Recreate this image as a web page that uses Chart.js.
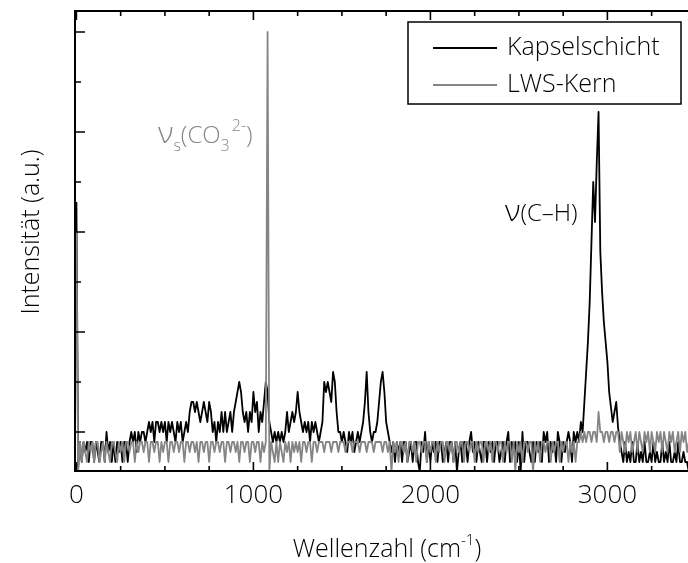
<!DOCTYPE html>
<html>
<head>
<meta charset="utf-8">
<script src="https://cdn.jsdelivr.net/npm/chart.js@4/dist/chart.umd.min.js"></script>
<style>
  html, body { margin: 0; padding: 0; background: #fff; overflow: hidden; }
  canvas { display: block; }
</style>
</head>
<body>
<canvas id="spectrum" width="700" height="563"></canvas>
<script>
// Raman spectra: capsule layer vs. core, sampled every 10 cm-1 from 0 cm-1
const WAVENUMBER_START = 0;
const WAVENUMBER_STEP = 10;

const seriesNames = ['Kapselschicht', 'LWS-Kern'];
const seriesColors = ['#000000', '#858585'];

// Kapselschicht intensity (a.u.), 25 samples per row (250 cm-1)
const kapselschicht = [
  56,3,8,4,8,6,8,4,8,8,4,8,6,4,8,8,4,10,6,8,4,8,4,8,6,
  8,4,8,8,4,8,10,8,10,6,10,8,10,10,8,10,12,10,12,8,12,12,10,12,10,
  12,8,12,10,12,10,8,12,10,12,8,10,12,10,14,16,16,14,16,14,12,14,16,14,12,
  16,14,10,12,8,12,10,14,10,14,10,12,14,10,14,16,18,20,18,14,12,14,10,14,12,
  18,14,16,10,14,12,16,20,18,12,10,8,10,8,10,8,10,8,10,14,10,12,14,12,14,
  18,14,12,10,12,10,12,8,12,10,12,10,8,10,12,20,18,20,18,16,22,20,14,10,10,
  8,10,8,6,10,8,10,6,8,10,8,10,12,16,22,14,10,8,10,10,12,16,20,22,18,
  12,10,8,6,8,4,8,6,8,4,8,8,4,6,8,4,8,8,4,2,8,6,10,4,8,
  4,8,6,8,4,8,8,4,6,8,4,8,8,4,8,2,6,8,4,8,8,4,8,10,6,
  8,4,8,6,4,8,8,4,8,6,8,4,8,8,4,6,8,4,8,10,4,8,6,8,4,
  8,2,10,4,8,8,6,4,8,4,8,6,8,4,10,8,10,4,8,6,8,4,10,8,4,
  8,6,8,10,8,4,10,8,10,8,12,10,16,22,28,36,48,60,52,64,74,46,38,32,28,
  24,18,15,12,14,16,11,8,6,4,8,4,6,4,8,4,4,8,4,6,4,8,4,4,6,
  4,8,4,6,4,4,8,4,6,4,8,4,4,6,4,8,4,4,6,4,4,2,4,4,4
];

// LWS-Kern intensity (a.u.), same sampling
const lwsKern = [
  50,2,8,4,8,6,4,8,6,8,4,8,8,4,6,8,4,8,6,4,8,8,6,4,8,
  6,8,4,8,8,6,8,8,4,8,6,8,8,6,8,8,4,8,8,6,8,8,4,8,6,
  8,8,4,8,8,6,8,8,6,8,8,4,8,8,6,8,8,6,8,4,8,8,6,8,8,
  4,8,8,6,8,8,6,8,8,4,8,8,6,8,8,6,8,4,8,8,6,8,8,4,8,
  8,6,8,8,4,8,6,8,90,2,8,6,4,8,4,8,6,4,8,6,8,4,8,6,8,
  6,8,4,8,8,6,8,8,4,8,8,6,8,8,8,6,8,8,8,6,8,8,8,6,8,
  8,8,6,8,8,8,6,8,8,8,6,8,8,8,6,8,8,8,6,8,8,8,8,6,8,
  8,6,8,2,8,6,8,4,8,8,6,8,4,8,8,6,8,4,8,8,6,8,8,4,8,
  6,8,8,4,8,6,8,8,4,8,8,6,8,4,8,8,6,8,8,4,8,8,6,8,8,
  4,8,6,8,8,4,8,8,6,8,4,8,8,6,8,8,4,8,6,8,8,4,8,2,8,
  6,8,4,8,8,6,8,8,2,8,6,8,4,8,8,6,8,8,4,8,6,8,8,4,8,
  6,8,8,4,8,6,8,4,8,8,10,8,10,8,10,10,8,10,10,8,14,10,10,8,10,
  10,8,10,10,8,10,10,6,10,8,6,10,8,10,6,8,10,6,10,8,6,10,8,10,6,
  10,8,6,10,8,10,6,10,8,6,10,8,10,6,8,10,6,10,8,10,6,8,10,8,6
];

// axis ranges and ticks
const X_MIN = -8, X_MAX = 3478;
const Y_MIN = 2.2, Y_MAX = 94.2;
const xTickValues = [0, 1000, 2000, 3000];
const xTickLabels = ['0', '1000', '2000', '3000'];
const X_MINOR_STEP = 250;
const yTickValues = [10, 20, 30, 40, 50, 60, 70, 80, 90];
const yMajorTicks = [10, 30, 50, 70, 90];

const FONT = '"Open Sans", "Noto Sans", sans-serif';
const W = '350 ';

const wavenumbers = kapselschicht.map((_, i) => WAVENUMBER_START + i * WAVENUMBER_STEP);
const toPoints = vals => vals.map((v, i) => ({ x: wavenumbers[i], y: v }));

// draw a run of text pieces with individual sizes and baseline shifts
function drawRich(ctx, parts, x, y, color) {
  ctx.fillStyle = color;
  ctx.textBaseline = 'alphabetic';
  ctx.textAlign = 'left';
  let cx = x;
  for (const p of parts) {
    ctx.font = W + p.size + 'px ' + FONT;
    ctx.fillText(p.t, cx, y + (p.dy || 0));
    cx += ctx.measureText(p.t).width + (p.gap || 0);
  }
  return cx - x;
}
function richWidth(ctx, parts) {
  let w = 0;
  for (const p of parts) {
    ctx.font = W + p.size + 'px ' + FONT;
    w += ctx.measureText(p.t).width + (p.gap || 0);
  }
  return w;
}

const framePlugin = {
  id: 'frame',
  afterDatasetsDraw(chart) {
    const { ctx, chartArea: a, scales: { x, y } } = chart;
    ctx.save();
    ctx.strokeStyle = '#000';
    ctx.lineWidth = 2;
    ctx.lineCap = 'butt';
    ctx.beginPath();
    ctx.moveTo(a.left - 1, a.top); ctx.lineTo(a.right, a.top);
    ctx.moveTo(a.left - 1, a.bottom); ctx.lineTo(a.right, a.bottom);
    ctx.moveTo(a.left, a.top); ctx.lineTo(a.left, a.bottom);
    ctx.moveTo(a.right, a.top); ctx.lineTo(a.right, a.bottom);
    ctx.stroke();

    // inward ticks on bottom and top
    ctx.lineWidth = 1.6;
    ctx.beginPath();
    for (let v = 0; v <= X_MAX; v += X_MINOR_STEP) {
      const px = x.getPixelForValue(v);
      const len = xTickValues.includes(v) ? 9 : 5;
      ctx.moveTo(px, a.bottom); ctx.lineTo(px, a.bottom - len);
      ctx.moveTo(px, a.top); ctx.lineTo(px, a.top + len);
    }
    // inward ticks on the left
    for (const v of yTickValues) {
      const py = y.getPixelForValue(v);
      const len = yMajorTicks.includes(v) ? 10 : 6;
      ctx.moveTo(a.left, py); ctx.lineTo(a.left + len, py);
    }
    ctx.stroke();

    // x tick labels
    ctx.fillStyle = '#000';
    ctx.font = W + '26px ' + FONT;
    ctx.textAlign = 'center';
    ctx.textBaseline = 'alphabetic';
    xTickValues.forEach((v, i) => {
      ctx.fillText(xTickLabels[i], x.getPixelForValue(v), a.bottom + 32);
    });

    // x title with superscript
    const xt = [
      { t: 'Wellenzahl (cm', size: 25 },
      { t: '-1', size: 15, dy: -12 },
      { t: ')', size: 25 }
    ];
    const xw = richWidth(ctx, xt);
    drawRich(ctx, xt, 387 - xw / 2, 557, '#000');

    // y title
    ctx.save();
    ctx.translate(39, 232);
    ctx.rotate(-Math.PI / 2);
    ctx.font = W + '25px ' + FONT;
    ctx.textAlign = 'center';
    ctx.textBaseline = 'alphabetic';
    ctx.fillStyle = '#000';
    ctx.fillText('Intensität (a.u.)', 0, 0);
    ctx.restore();

    // band labels
    drawRich(ctx, [
      { t: 'ν', size: 30 },
      { t: 's', size: 16, dy: 8 },
      { t: '(CO', size: 24 },
      { t: '3', size: 16, dy: 8, gap: 2 },
      { t: '2-', size: 16, dy: -12 },
      { t: ')', size: 24 }
    ], 158, 143, seriesColors[1]);
    drawRich(ctx, [
      { t: 'ν', size: 30 },
      { t: '(C–H)', size: 24 }
    ], 505, 221, seriesColors[0]);

    // legend box
    const lx = 408, ly = 22, lw = 273, lh = 82;
    ctx.fillStyle = '#fff';
    ctx.fillRect(lx, ly, lw, lh);
    ctx.strokeStyle = '#000';
    ctx.lineWidth = 1.5;
    ctx.strokeRect(lx, ly, lw, lh);
    const rows = [48, 85];
    chart.data.datasets.forEach((ds, i) => {
      ctx.strokeStyle = ds.borderColor;
      ctx.lineWidth = 2;
      ctx.beginPath();
      ctx.moveTo(433, rows[i]); ctx.lineTo(497, rows[i]);
      ctx.stroke();
      ctx.fillStyle = '#000';
      ctx.font = W + '25px ' + FONT;
      ctx.textAlign = 'left';
      ctx.textBaseline = 'middle';
      ctx.fillText(ds.label, 507, rows[i]);
    });
    ctx.restore();
  }
};

new Chart(document.getElementById('spectrum'), {
  type: 'line',
  data: {
    datasets: [
      { label: seriesNames[0], data: toPoints(kapselschicht), borderColor: seriesColors[0],
        borderWidth: 1.8, pointRadius: 0, tension: 0, order: 1, borderJoinStyle: 'round' },
      { label: seriesNames[1], data: toPoints(lwsKern), borderColor: seriesColors[1],
        borderWidth: 1.8, pointRadius: 0, tension: 0, order: 0, borderJoinStyle: 'round' }
    ]
  },
  options: {
    responsive: false,
    animation: false,
    devicePixelRatio: 1,
    layout: { padding: { left: 75, top: 11, right: 8, bottom: 92 } },
    scales: {
      x: { type: 'linear', min: X_MIN, max: X_MAX, display: false },
      y: { type: 'linear', min: Y_MIN, max: Y_MAX, display: false }
    },
    plugins: { legend: { display: false }, tooltip: { enabled: false } }
  },
  plugins: [framePlugin]
});
</script>
</body>
</html>
